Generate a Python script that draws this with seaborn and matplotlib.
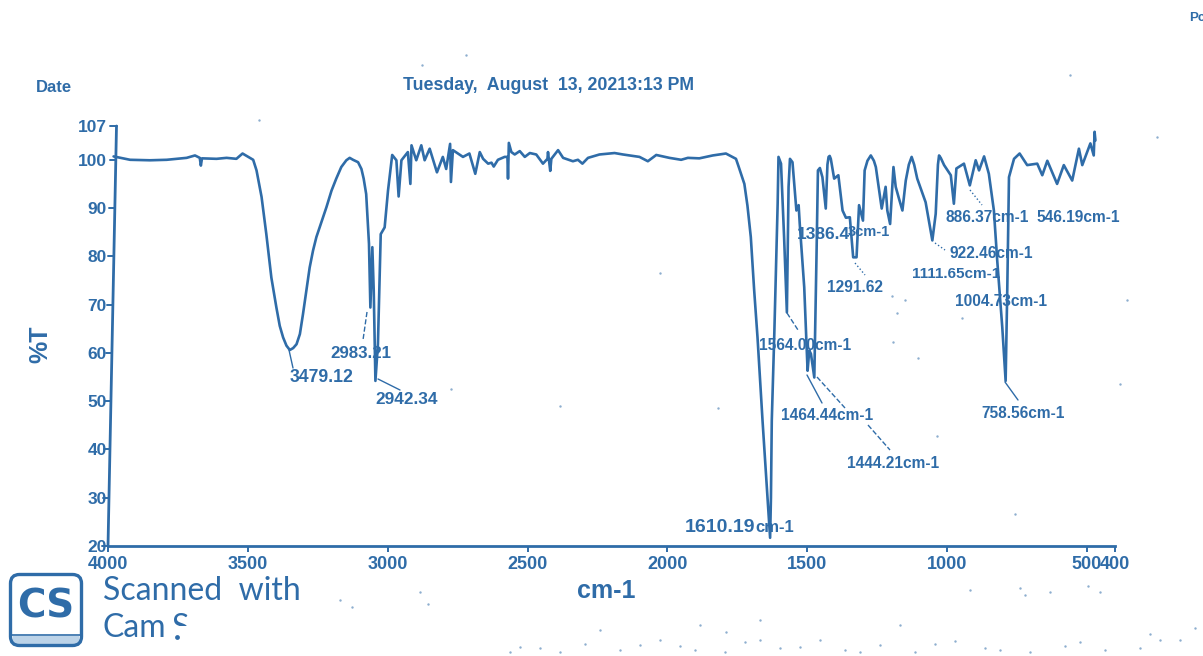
import matplotlib
matplotlib.use('Agg')
import matplotlib.pyplot as plt
from matplotlib.patches import FancyBboxPatch, Rectangle
import numpy as np
import pandas as pd
import seaborn as sns

# Spectrum: wavenumber (cm-1) and transmittance (%T)
wavenumber = [
    3980, 3921, 3850, 3790, 3719, 3689, 3672, 3668, 3664, 3612, 3576, 3541, 3519, 3493, 3481,
    3469, 3451, 3434, 3416, 3398, 3386, 3374, 3362, 3350, 3338, 3326, 3314, 3303, 3291, 3279,
    3267, 3255, 3237, 3219, 3201, 3184, 3166, 3148, 3136, 3124, 3106, 3094, 3086, 3077, 3067,
    3062, 3055, 3050, 3044, 3035, 3025, 3011, 2999, 2984, 2969, 2961, 2951,
    2928, 2919, 2915, 2898, 2880, 2868, 2850, 2824, 2803, 2791, 2777, 2774, 2767, 2731, 2708,
    2687, 2671, 2659, 2641, 2629, 2621, 2606, 2582, 2572, 2570, 2567, 2558, 2546, 2528, 2510,
    2492, 2469, 2445, 2429, 2427, 2419, 2415, 2391, 2373, 2338, 2320, 2304, 2284, 2243, 2189,
    2159, 2100, 2070, 2040, 1993, 1951, 1927, 1886, 1838, 1791, 1755, 1745, 1725, 1714, 1702,
    1690, 1678, 1660, 1640, 1633, 1630, 1627, 1618, 1606, 1603, 1594, 1583, 1573, 1567, 1562,
    1553, 1539, 1531, 1527, 1511, 1499, 1493, 1487, 1475, 1467, 1462, 1455, 1446, 1434, 1428,
    1424, 1420, 1416, 1404, 1389, 1374, 1362, 1348, 1336, 1324, 1315, 1301, 1295, 1285, 1273,
    1262, 1255, 1234, 1220, 1214, 1204, 1192, 1184, 1172, 1160, 1148, 1137, 1127, 1118, 1107,
    1077, 1053, 1041, 1033, 1029, 1023, 1011, 987, 976, 967, 940, 919, 898, 886, 868,
    851, 833, 821, 803, 791, 785, 779, 761, 741, 714, 678, 660, 642, 607, 583,
    553, 529, 517, 488, 476, 473, 470,
]
transmittance = [
    100.7, 100.0, 99.9, 100.0, 100.4, 100.9, 100.4, 98.8, 100.3, 100.2, 100.4, 100.2, 101.3, 100.4, 100.0,
    97.8, 92.3, 84.6, 75.6, 69.4, 65.6, 63.2, 61.5, 60.6, 61.0, 61.8, 63.9, 68.0, 72.9, 77.7,
    81.2, 84.0, 87.1, 90.2, 93.6, 96.1, 98.5, 99.9, 100.4, 100.0, 99.5, 98.1, 96.1, 92.9, 82.6,
    69.4, 81.9, 72.9, 54.2, 61.8, 84.6, 86.0, 93.6, 101.0, 99.9, 92.4, 99.9,
    101.6, 95.0, 103.0, 99.9, 103.0, 99.9, 102.3, 97.4, 100.6, 98.1, 103.3, 95.4, 102.0, 100.6, 101.3,
    97.1, 101.6, 100.2, 99.2, 99.4, 98.6, 100.0, 100.6, 100.6, 96.1, 103.5, 101.6, 101.1, 101.8, 100.6,
    101.4, 101.1, 99.2, 100.2, 101.6, 97.7, 100.2, 102.0, 100.4, 99.7, 100.0, 99.2, 100.4, 101.1, 101.4,
    101.1, 100.6, 99.7, 101.0, 100.4, 100.0, 100.4, 100.3, 100.9, 101.3, 100.2, 98.5, 95.0, 90.5, 84.0,
    73.0, 63.2, 45.9, 28.0, 21.7, 30.0, 46.0, 63.9, 90.9, 100.6, 99.2, 84.0, 68.4, 94.4, 100.2,
    99.5, 89.5, 90.6, 86.7, 73.6, 56.3, 60.5, 59.8, 54.9, 80.5, 97.8, 98.3, 96.4, 89.9, 99.0,
    100.6, 100.8, 100.2, 96.1, 96.8, 89.5, 88.0, 88.1, 79.8, 79.8, 90.6, 87.4, 97.8, 99.8, 100.9,
    99.8, 98.5, 89.9, 94.4, 89.5, 86.7, 98.5, 94.4, 91.9, 89.5, 95.7, 99.0, 100.6, 99.0, 96.1,
    91.2, 83.3, 88.8, 99.0, 100.9, 100.4, 98.9, 96.8, 90.9, 98.2, 99.2, 94.7, 99.9, 97.8, 100.7,
    97.1, 89.5, 79.1, 65.3, 54.2, 73.6, 96.4, 100.2, 101.3, 98.9, 99.2, 96.8, 99.8, 95.0, 98.9,
    95.7, 102.3, 98.9, 103.4, 100.9, 105.8, 104.0,
]

x_ticks = [4000, 3500, 3000, 2500, 2000, 1500, 1000, 500, 400]
y_ticks = [20, 30, 40, 50, 60, 70, 80, 90, 100, 107]

# label text, left edge px, centre y px, font size
peak_labels = ['3479.12', '2983.21', '2942.34', '1610.19', 'cm-1', '1564.00cm-1', '1464.44cm-1',
               '1444.21cm-1', '1386.4', '3cm-1', '1291.62', '886.37cm-1', '546.19cm-1',
               '922.46cm-1', '1111.65cm-1', '1004.73cm-1', '758.56cm-1']
label_x = [290, 330, 375, 685, 755, 759, 781, 847, 797, 848, 827, 946, 1036, 949, 912, 955, 981]
label_y = [377, 354, 400, 527, 527, 345, 415, 464, 235, 232, 288, 218, 217, 253, 274, 301, 414]
label_size = [12.7, 12.2, 12.4, 14, 12, 11.2, 11.2, 11.2, 12.5, 10.5, 11.2, 11.2, 11.2, 11.2, 11.0, 11.2, 11.2]

# leader lines in px: x0, y0, x1, y1, style
leaders = [
    (289, 350, 293, 368, '-'),
    (367, 312, 363, 340, '--'),
    (378, 379, 400, 390, '-'),
    (787, 313, 798, 330, '--'),
    (807, 375, 822, 403, '-'),
    (817, 377, 845, 408, '--'),
    (868, 425, 890, 450, '--'),
    (855, 263, 865, 275, ':'),
    (1005, 382, 1018, 400, '-'),
    (935, 243, 945, 250, ':'),
    (970, 190, 982, 205, ':'),
]

# dirt from the scanner
speck_x = [259, 422, 466, 1157, 660, 718, 937, 1015, 451, 560, 897, 962, 1070, 1127, 918, 905, 893, 892,
           340, 352, 420, 428, 700, 726, 760, 970, 1020, 1025, 1050, 1088, 1100, 1160, 1120,
           510, 540, 640, 695, 800, 860, 935, 1000, 1065, 1180, 1140, 600, 760, 900,
           520, 560, 585, 620, 660, 680, 725, 745, 780, 820, 845, 880, 915, 955, 985, 1030, 1080, 1105, 1150, 1195]
speck_y = [120, 65, 55, 137, 273, 408, 436, 514, 389, 406, 313, 318, 75, 300, 358, 300, 342, 296,
           600, 607, 592, 604, 625, 632, 620, 590, 588, 595, 592, 586, 592, 640, 384,
           652, 648, 645, 650, 647, 652, 644, 650, 646, 640, 648, 630, 640, 625,
           647, 652, 644, 650, 640, 646, 652, 642, 648, 640, 650, 645, 652, 641, 648, 652, 642, 650, 634, 628]

blue = '#2f6ca8'
W, H = 1203, 656

sns.set_theme(style='ticks')
plt.rcParams['font.family'] = ['Liberation Sans', 'DejaVu Sans']

fig = plt.figure(figsize=(W / 100, H / 100), dpi=100)
ax = fig.add_axes([108 / W, 1 - 546 / H, (1115 - 108) / W, (546 - 126) / H])


def px(x, y):
    return x / W, 1 - y / H


df = pd.DataFrame({'wavenumber': wavenumber, 'T': transmittance})
sns.lineplot(data=df, x='wavenumber', y='T', sort=False, estimator=None, color=blue, lw=1.9, ax=ax)

ax.set_xlim(4000, 400)
ax.set_ylim(20, 107)
ax.set_xticks(x_ticks)
ax.set_yticks(y_ticks)
ax.set_xticklabels([str(t) for t in x_ticks], fontsize=13, color=blue, fontweight='bold')
ax.set_yticklabels([str(t) for t in y_ticks], fontsize=12.5, color=blue, fontweight='bold')
ax.tick_params(axis='x', colors=blue, length=4, width=1.4, pad=3.5)
ax.tick_params(axis='y', colors=blue, length=0, pad=1)
ax.set_xlabel('')
ax.set_ylabel('')
sns.despine(ax=ax, left=True)
ax.spines['bottom'].set_color(blue)
ax.spines['bottom'].set_linewidth(2)

# the scan is a little skewed, so the y axis leans to the right
lean = 8.5 / (1115 - 108)
yt = ax.get_yaxis_transform()
ax.plot([0, lean], [20, 107], color=blue, lw=2, transform=yt, clip_on=False)
for v in y_ticks:
    f = lean * (v - 20) / 87
    ax.plot([f - 0.006, f], [v, v], color=blue, lw=1.4, transform=yt, clip_on=False)

fig.text(*px(606, 591), 'cm-1', fontsize=18, color=blue, fontweight='bold', ha='center', va='center')
fig.text(*px(40, 344), '%T', fontsize=18, color=blue, fontweight='bold', ha='center', va='center', rotation=90)
fig.text(*px(36, 87), 'Date', fontsize=12, color=blue, fontweight='bold', va='center')
fig.text(*px(403, 86), 'Tuesday,  August  13, 20213:13 PM', fontsize=12.8, color=blue, fontweight='bold', va='center')
fig.text(*px(1189, 18), 'Pc', fontsize=9.5, color=blue, fontweight='bold', va='center')

for s, x, y, fs in zip(peak_labels, label_x, label_y, label_size):
    fig.text(*px(x, y), s, fontsize=fs, color=blue, fontweight='bold', va='center')

for x0, y0, x1, y1, ls in leaders:
    a, b = px(x0, y0), px(x1, y1)
    ax.plot([a[0], b[0]], [a[1], b[1]], ls, color=blue, lw=1, transform=fig.transFigure, clip_on=False)

sx, sy = zip(*[px(a, b) for a, b in zip(speck_x, speck_y)])
ax.scatter(sx, sy, s=3, color=blue, alpha=0.55, linewidths=0, transform=fig.transFigure, clip_on=False)

# CamScanner stamp
box_ax = fig.add_axes([0, 0, 1, 1], facecolor='none')
box_ax.set_xlim(0, W)
box_ax.set_ylim(H, 0)
box_ax.axis('off')
box_ax.add_patch(Rectangle((13, 636), 66, 8, color='#bcd3e8', lw=0))
box_ax.add_patch(FancyBboxPatch((10.5, 574.5), 71, 71, boxstyle='round,pad=0,rounding_size=9',
                                lw=2.4, ec=blue, fc='none'))
box_ax.plot([11, 81], [635, 635], color=blue, lw=1.2)
box_ax.text(46, 606, 'CS', fontsize=28, fontweight='bold', family='DejaVu Sans', color=blue, ha='center', va='center')
box_ax.text(103, 591, 'Scanned  with', fontsize=23, family='Lato', color=blue, va='center')
box_ax.text(103, 628, 'Cam', fontsize=23, family='Lato', color=blue, va='center')
s_top = box_ax.text(172, 628, 'S', fontsize=23, family='Lato', color=blue, va='center')
s_top.set_clip_on(True)
s_top.set_clip_path(Rectangle((170, 610), 22, 16, transform=box_ax.transData))
box_ax.scatter([177], [637], s=12, color=blue, linewidths=0)

fig.savefig('out.png', dpi=100, facecolor='white')
